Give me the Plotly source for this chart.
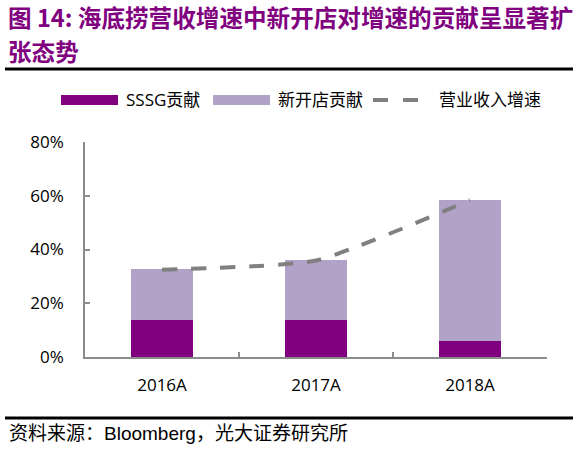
import plotly.graph_objects as go

# ---- data ----
categories = ["2016A", "2017A", "2018A"]
sssg_contrib = [0.139, 0.138, 0.061]
new_store_contrib = [0.188, 0.223, 0.525]
revenue_growth = [0.325, 0.359, 0.584]
y_ticks = [0, 0.2, 0.4, 0.6, 0.8]
y_tick_labels = ["0%", "20%", "40%", "60%", "80%"]

title_lines = ["图 14: 海底捞营收增速中新开店对增速的贡献呈显著扩", "张态势"]
source_text = "资料来源：Bloomberg，光大证券研究所"
legend_names = ["SSSG贡献", "新开店贡献", "营业收入增速"]

# ---- styles ----
W, H = 578, 452
L, R, T, B = 85, 31, 142, 95
DARK = "#800080"
LIGHT = "#B3A2C7"
GREY = "#808080"
AXIS = "#8C8C8C"
FONT = "Open Sans, Noto Sans CJK SC, sans-serif"

def px_x(px):
    return (px - L) / (W - L - R)

def px_y(py):
    return (H - B - py) / (H - T - B)

fig = go.Figure()
fig.add_trace(go.Bar(x=categories, y=sssg_contrib, name=legend_names[0],
                     marker=dict(color=DARK, line=dict(width=0)), width=0.407))
fig.add_trace(go.Bar(x=categories, y=new_store_contrib, name=legend_names[1],
                     marker=dict(color=LIGHT, line=dict(width=0)), width=0.407))
fig.add_trace(go.Scatter(x=categories, y=revenue_growth, name=legend_names[2], mode="lines",
                         line=dict(color=GREY, width=4, dash="15px,14px", shape="spline", smoothing=0.5)))

shapes = []
annotations = []

# title
for i, line in enumerate(title_lines):
    annotations.append(dict(text="<b>" + line + "</b>", xref="paper", yref="paper",
                            x=px_x(6), y=px_y(17 + 34 * i), xanchor="left", yanchor="middle",
                            showarrow=False, font=dict(family="Noto Sans CJK SC", size=23.6, color=DARK)))
# rules
for yy in (69, 418):
    shapes.append(dict(type="line", xref="paper", yref="paper", x0=px_x(5), x1=px_x(573),
                       y0=px_y(yy), y1=px_y(yy), line=dict(color="black", width=3)))
# source
annotations.append(dict(text=source_text, xref="paper", yref="paper", x=px_x(7), y=px_y(433),
                        xanchor="left", yanchor="middle", showarrow=False,
                        font=dict(family="Liberation Sans, Noto Sans CJK SC", size=19, color="black")))

# legend (manual)
LY = 100
shapes.append(dict(type="rect", xref="paper", yref="paper", x0=px_x(61), x1=px_x(118),
                   y0=px_y(105), y1=px_y(95), fillcolor=DARK, line=dict(width=0)))
shapes.append(dict(type="rect", xref="paper", yref="paper", x0=px_x(213), x1=px_x(270),
                   y0=px_y(105), y1=px_y(95), fillcolor=LIGHT, line=dict(width=0)))
shapes.append(dict(type="line", xref="paper", yref="paper", x0=px_x(373), x1=px_x(420),
                   y0=px_y(LY), y1=px_y(LY), line=dict(color=GREY, width=4, dash="15px,15px")))
for name, xx in zip(legend_names, (124, 276, 437)):
    annotations.append(dict(text=name, xref="paper", yref="paper", x=px_x(xx), y=px_y(LY),
                            xanchor="left", yanchor="middle", showarrow=False,
                            font=dict(family=FONT, size=17, color="black")))

fig.update_layout(
    width=W, height=H, margin=dict(l=L, r=R, t=T, b=B, autoexpand=False),
    barmode="stack", showlegend=False, plot_bgcolor="white", paper_bgcolor="white",
    shapes=shapes, annotations=annotations, hovermode=False,
    font=dict(family=FONT, size=17, color="black"),
)
fig.update_xaxes(type="category", showline=True, linecolor=AXIS, linewidth=1.5,
                 ticks="inside", ticklen=5, tickcolor=AXIS, tickwidth=1.5, tickson="boundaries",
                 showgrid=False, ticklabelstandoff=12, tickfont=dict(size=17, family=FONT))
fig.update_yaxes(range=[0, 0.8], tickvals=y_ticks, ticktext=y_tick_labels, showline=True,
                 linecolor=AXIS, linewidth=1.5, ticks="inside", ticklen=5, tickcolor=AXIS,
                 tickwidth=1.5, showgrid=False, zeroline=False, ticklabelstandoff=16,
                 tickfont=dict(size=17, family=FONT))

fig.write_html("out.html", config={"displayModeBar": False})
